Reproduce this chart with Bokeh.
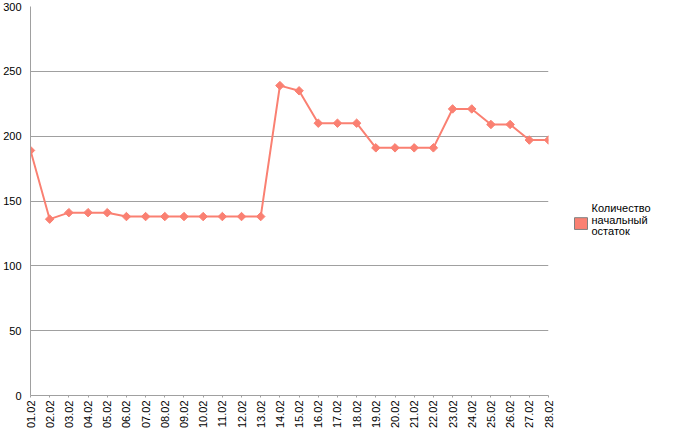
import numpy as np
from bokeh.plotting import figure
from bokeh.layouts import row
from bokeh.models import Range1d, FixedTicker
from bokeh.core.properties import value
from bokeh.embed import file_html
from bokeh.resources import INLINE

dates = ["01.02", "02.02", "03.02", "04.02", "05.02", "06.02", "07.02", "08.02",
         "09.02", "10.02", "11.02", "12.02", "13.02", "14.02", "15.02", "16.02",
         "17.02", "18.02", "19.02", "20.02", "21.02", "22.02", "23.02", "24.02",
         "25.02", "26.02", "27.02", "28.02"]
values = [189, 136, 141, 141, 141, 138, 138, 138, 138, 138, 138, 138, 138,
          239, 235, 210, 210, 210, 191, 191, 191, 191, 221, 221, 209, 209, 197, 197]
y_ticks = [0, 50, 100, 150, 200, 250, 300]
series_name_lines = ["Количество", "начальный", "остаток"]

COLOR = "#fa8072"
GRID = "#a0a0a0"
FONT = "Liberation Sans"
H = 431

xs = list(range(len(dates)))
n = len(dates) - 1

p = figure(width=556, height=H, output_backend="svg", toolbar_location=None,
           x_range=Range1d(0, n), y_range=Range1d(0, 300),
           min_border_left=25, min_border_top=6,
           min_border_right=8, min_border_bottom=0)
p.outline_line_color = None
p.xgrid.visible = False

xaxis = p.xaxis[0]
xaxis.ticker = FixedTicker(ticks=xs)
xaxis.major_label_overrides = {i: d for i, d in enumerate(dates)}
xaxis.major_label_orientation = np.pi / 2
xaxis.major_label_text_font = FONT
xaxis.major_label_text_font_size = "11px"
xaxis.major_label_text_color = "black"
xaxis.major_label_standoff = 3
xaxis.axis_line_color = GRID
xaxis.major_tick_line_color = GRID
xaxis.major_tick_in = 0
xaxis.major_tick_out = 2
xaxis.minor_tick_line_color = None

p.yaxis.ticker = FixedTicker(ticks=y_ticks)
p.yaxis.major_label_text_font = FONT
p.yaxis.major_label_text_font_size = "11px"
p.yaxis.major_label_text_color = "black"
p.yaxis.major_label_standoff = 3
p.yaxis.axis_line_color = GRID
p.yaxis.major_tick_line_color = None
p.yaxis.minor_tick_line_color = None
p.ygrid.grid_line_color = GRID
p.ygrid.ticker = FixedTicker(ticks=y_ticks)

p.line(xs, values, line_color=COLOR, line_width=2)
p.scatter(xs, values, marker="square", angle=np.pi / 4, size=6,
          fill_color=COLOR, line_color=COLOR)

# legend panel as a separate figure in pixel-like coordinates
LW = 115
lg = figure(width=LW, height=H, output_backend="svg", toolbar_location=None,
            x_range=Range1d(0, LW), y_range=Range1d(H, 0),
            min_border=0, x_axis_location=None, y_axis_location=None)
lg.outline_line_color = None
lg.xgrid.visible = False
lg.ygrid.visible = False
lg.quad(left=[18], right=[31], top=[234], bottom=[247],
        fill_color=COLOR, line_color="#808080", line_width=1)
lg.text(x=[35] * 3, y=[223, 236, 249], text=series_name_lines,
        text_baseline="middle", text_align="left",
        text_font=value(FONT), text_font_size="11px", text_color="black")

layout = row(p, lg)
open("out.html", "w").write(file_html(layout, INLINE))
